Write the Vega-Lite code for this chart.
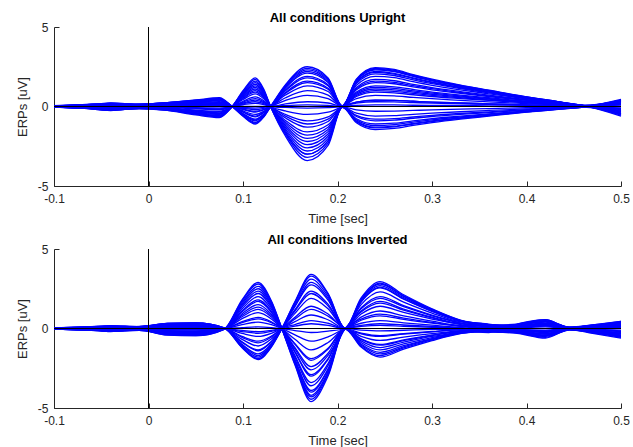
{
"$schema":"https://vega.github.io/schema/vega-lite/v6.json",
"padding":{"left":16,"top":12,"right":12,"bottom":4},
"config":{"view":{"stroke":null},"font":"Liberation Sans",
"axis":{"grid":false,"domainColor":"#262626","tickColor":"#262626","labelColor":"#262626","titleColor":"#262626","labelFont":"Liberation Sans","titleFont":"Liberation Sans","labelFontSize":12,"titleFontSize":13,"titleFontWeight":"normal","tickSize":-5,"labelFlush":false},
"axisX":{"labelPadding":12,"titlePadding":8},
"axisY":{"labelPadding":11,"titlePadding":8},
"title":{"font":"Liberation Sans","fontSize":13,"fontWeight":"bold","color":"#000000","offset":-4}},
"spacing":9,
"datasets":{
"zero":[{"t":0,"v":0}],
"up":[
{"c":1,"t":-0.1,"v":0.03},{"c":1,"t":-0.07,"v":-0.1},{"c":1,"t":-0.04,"v":-0.25},{"c":1,"t":-0.01,"v":-0.12},{"c":1,"t":0.02,"v":-0.2},{"c":1,"t":0.05,"v":-0.45},{"c":1,"t":0.075,"v":-0.6},{"c":1,"t":0.088,"v":-0.05},{"c":1,"t":0.1,"v":0.99},{"c":1,"t":0.113,"v":1.8},{"c":1,"t":0.122,"v":1.08},{"c":1,"t":0.129,"v":0.03},{"c":1,"t":0.145,"v":-1.87},{"c":1,"t":0.168,"v":-3.4},{"c":1,"t":0.19,"v":-2.45},{"c":1,"t":0.205,"v":-0.05},{"c":1,"t":0.22,"v":-0.84},{"c":1,"t":0.24,"v":-1.2},{"c":1,"t":0.26,"v":-1.14},{"c":1,"t":0.28,"v":-0.98},{"c":1,"t":0.3,"v":-0.84},{"c":1,"t":0.33,"v":-0.66},{"c":1,"t":0.36,"v":-0.5},{"c":1,"t":0.4,"v":-0.3},{"c":1,"t":0.43,"v":-0.17},{"c":1,"t":0.46,"v":-0.04},{"c":1,"t":0.5,"v":0.3},
{"c":2,"t":-0.1,"v":0.02},{"c":2,"t":-0.07,"v":-0.08},{"c":2,"t":-0.04,"v":-0.2},{"c":2,"t":-0.01,"v":-0.1},{"c":2,"t":0.02,"v":-0.25},{"c":2,"t":0.05,"v":-0.53},{"c":2,"t":0.075,"v":-0.7},{"c":2,"t":0.088,"v":-0.04},{"c":2,"t":0.1,"v":0.88},{"c":2,"t":0.113,"v":1.6},{"c":2,"t":0.122,"v":0.96},{"c":2,"t":0.129,"v":0.02},{"c":2,"t":0.145,"v":-1.65},{"c":2,"t":0.168,"v":-3.0},{"c":2,"t":0.19,"v":-2.16},{"c":2,"t":0.205,"v":-0.04},{"c":2,"t":0.22,"v":-1.02},{"c":2,"t":0.24,"v":-1.45},{"c":2,"t":0.26,"v":-1.38},{"c":2,"t":0.28,"v":-1.19},{"c":2,"t":0.3,"v":-1.02},{"c":2,"t":0.33,"v":-0.8},{"c":2,"t":0.36,"v":-0.61},{"c":2,"t":0.4,"v":-0.36},{"c":2,"t":0.43,"v":-0.2},{"c":2,"t":0.46,"v":-0.04},{"c":2,"t":0.5,"v":0.45},
{"c":3,"t":-0.1,"v":0.01},{"c":3,"t":-0.07,"v":-0.06},{"c":3,"t":-0.04,"v":-0.15},{"c":3,"t":-0.01,"v":-0.08},{"c":3,"t":0.02,"v":-0.15},{"c":3,"t":0.05,"v":-0.38},{"c":3,"t":0.075,"v":-0.5},{"c":3,"t":0.088,"v":-0.03},{"c":3,"t":0.1,"v":0.77},{"c":3,"t":0.113,"v":1.4},{"c":3,"t":0.122,"v":0.84},{"c":3,"t":0.129,"v":0.02},{"c":3,"t":0.145,"v":-1.43},{"c":3,"t":0.168,"v":-2.6},{"c":3,"t":0.19,"v":-1.87},{"c":3,"t":0.205,"v":-0.03},{"c":3,"t":0.22,"v":-0.63},{"c":3,"t":0.24,"v":-0.9},{"c":3,"t":0.26,"v":-0.86},{"c":3,"t":0.28,"v":-0.74},{"c":3,"t":0.3,"v":-0.63},{"c":3,"t":0.33,"v":-0.5},{"c":3,"t":0.36,"v":-0.38},{"c":3,"t":0.4,"v":-0.23},{"c":3,"t":0.43,"v":-0.13},{"c":3,"t":0.46,"v":-0.03},{"c":3,"t":0.5,"v":0.2},
{"c":4,"t":-0.1,"v":-0.02},{"c":4,"t":-0.07,"v":-0.05},{"c":4,"t":-0.04,"v":-0.1},{"c":4,"t":-0.01,"v":-0.05},{"c":4,"t":0.02,"v":-0.12},{"c":4,"t":0.05,"v":-0.3},{"c":4,"t":0.075,"v":-0.4},{"c":4,"t":0.088,"v":-0.02},{"c":4,"t":0.1,"v":0.66},{"c":4,"t":0.113,"v":1.2},{"c":4,"t":0.122,"v":0.72},{"c":4,"t":0.129,"v":0.01},{"c":4,"t":0.145,"v":-1.21},{"c":4,"t":0.168,"v":-2.2},{"c":4,"t":0.19,"v":-1.58},{"c":4,"t":0.205,"v":-0.02},{"c":4,"t":0.22,"v":-0.42},{"c":4,"t":0.24,"v":-0.6},{"c":4,"t":0.26,"v":-0.57},{"c":4,"t":0.28,"v":-0.49},{"c":4,"t":0.3,"v":-0.42},{"c":4,"t":0.33,"v":-0.33},{"c":4,"t":0.36,"v":-0.25},{"c":4,"t":0.4,"v":-0.15},{"c":4,"t":0.43,"v":-0.08},{"c":4,"t":0.46,"v":-0.02},{"c":4,"t":0.5,"v":-0.2},
{"c":5,"t":-0.1,"v":0},{"c":5,"t":-0.07,"v":-0.03},{"c":5,"t":-0.04,"v":-0.05},{"c":5,"t":-0.01,"v":0.02},{"c":5,"t":0.02,"v":-0.08},{"c":5,"t":0.05,"v":-0.23},{"c":5,"t":0.075,"v":-0.3},{"c":5,"t":0.088,"v":-0.02},{"c":5,"t":0.1,"v":0.55},{"c":5,"t":0.113,"v":1.0},{"c":5,"t":0.122,"v":0.6},{"c":5,"t":0.129,"v":0.01},{"c":5,"t":0.145,"v":-0.99},{"c":5,"t":0.168,"v":-1.8},{"c":5,"t":0.19,"v":-1.3},{"c":5,"t":0.205,"v":-0.02},{"c":5,"t":0.22,"v":-0.21},{"c":5,"t":0.24,"v":-0.3},{"c":5,"t":0.26,"v":-0.29},{"c":5,"t":0.28,"v":-0.25},{"c":5,"t":0.3,"v":-0.21},{"c":5,"t":0.33,"v":-0.17},{"c":5,"t":0.36,"v":-0.13},{"c":5,"t":0.4,"v":-0.08},{"c":5,"t":0.43,"v":-0.04},{"c":5,"t":0.46,"v":-0.01},{"c":5,"t":0.5,"v":0.1},
{"c":6,"t":-0.1,"v":-0.03},{"c":6,"t":-0.07,"v":0.02},{"c":6,"t":-0.04,"v":-0.02},{"c":6,"t":-0.01,"v":0.05},{"c":6,"t":0.02,"v":-0.05},{"c":6,"t":0.05,"v":-0.15},{"c":6,"t":0.075,"v":-0.2},{"c":6,"t":0.088,"v":-0.01},{"c":6,"t":0.1,"v":0.44},{"c":6,"t":0.113,"v":0.8},{"c":6,"t":0.122,"v":0.48},{"c":6,"t":0.129,"v":0},{"c":6,"t":0.145,"v":-0.72},{"c":6,"t":0.168,"v":-1.3},{"c":6,"t":0.19,"v":-0.94},{"c":6,"t":0.205,"v":-0.01},{"c":6,"t":0.22,"v":0.07},{"c":6,"t":0.24,"v":0.1},{"c":6,"t":0.26,"v":0.1},{"c":6,"t":0.28,"v":0.08},{"c":6,"t":0.3,"v":0.07},{"c":6,"t":0.33,"v":0.06},{"c":6,"t":0.36,"v":0.04},{"c":6,"t":0.4,"v":0.03},{"c":6,"t":0.43,"v":0.01},{"c":6,"t":0.46,"v":0},{"c":6,"t":0.5,"v":-0.3},
{"c":7,"t":-0.1,"v":0.02},{"c":7,"t":-0.07,"v":0.05},{"c":7,"t":-0.04,"v":0.05},{"c":7,"t":-0.01,"v":-0.03},{"c":7,"t":0.02,"v":0},{"c":7,"t":0.05,"v":-0.08},{"c":7,"t":0.075,"v":-0.1},{"c":7,"t":0.088,"v":0},{"c":7,"t":0.1,"v":0.33},{"c":7,"t":0.113,"v":0.6},{"c":7,"t":0.122,"v":0.36},{"c":7,"t":0.129,"v":0},{"c":7,"t":0.145,"v":-0.5},{"c":7,"t":0.168,"v":-0.9},{"c":7,"t":0.19,"v":-0.65},{"c":7,"t":0.205,"v":0},{"c":7,"t":0.22,"v":0.28},{"c":7,"t":0.24,"v":0.4},{"c":7,"t":0.26,"v":0.38},{"c":7,"t":0.28,"v":0.33},{"c":7,"t":0.3,"v":0.28},{"c":7,"t":0.33,"v":0.22},{"c":7,"t":0.36,"v":0.17},{"c":7,"t":0.4,"v":0.1},{"c":7,"t":0.43,"v":0.06},{"c":7,"t":0.46,"v":0.01},{"c":7,"t":0.5,"v":0.35},
{"c":8,"t":-0.1,"v":-0.01},{"c":8,"t":-0.07,"v":-0.02},{"c":8,"t":-0.04,"v":0.08},{"c":8,"t":-0.01,"v":0.06},{"c":8,"t":0.02,"v":0.03},{"c":8,"t":0.05,"v":0.02},{"c":8,"t":0.075,"v":0},{"c":8,"t":0.088,"v":0},{"c":8,"t":0.1,"v":0.22},{"c":8,"t":0.113,"v":0.4},{"c":8,"t":0.122,"v":0.24},{"c":8,"t":0.129,"v":0},{"c":8,"t":0.145,"v":-0.28},{"c":8,"t":0.168,"v":-0.5},{"c":8,"t":0.19,"v":-0.36},{"c":8,"t":0.205,"v":0},{"c":8,"t":0.22,"v":0.49},{"c":8,"t":0.24,"v":0.7},{"c":8,"t":0.26,"v":0.67},{"c":8,"t":0.28,"v":0.57},{"c":8,"t":0.3,"v":0.49},{"c":8,"t":0.33,"v":0.39},{"c":8,"t":0.36,"v":0.29},{"c":8,"t":0.4,"v":0.18},{"c":8,"t":0.43,"v":0.1},{"c":8,"t":0.46,"v":0.02},{"c":8,"t":0.5,"v":-0.1},
{"c":9,"t":-0.1,"v":0.04},{"c":9,"t":-0.07,"v":0.06},{"c":9,"t":-0.04,"v":0.1},{"c":9,"t":-0.01,"v":0.08},{"c":9,"t":0.02,"v":0.06},{"c":9,"t":0.05,"v":0.08},{"c":9,"t":0.075,"v":0.1},{"c":9,"t":0.088,"v":0.01},{"c":9,"t":0.1,"v":0.11},{"c":9,"t":0.113,"v":0.2},{"c":9,"t":0.122,"v":0.12},{"c":9,"t":0.129,"v":0},{"c":9,"t":0.145,"v":-0.06},{"c":9,"t":0.168,"v":-0.1},{"c":9,"t":0.19,"v":-0.07},{"c":9,"t":0.205,"v":0},{"c":9,"t":0.22,"v":0.63},{"c":9,"t":0.24,"v":0.9},{"c":9,"t":0.26,"v":0.86},{"c":9,"t":0.28,"v":0.74},{"c":9,"t":0.3,"v":0.63},{"c":9,"t":0.33,"v":0.5},{"c":9,"t":0.36,"v":0.38},{"c":9,"t":0.4,"v":0.23},{"c":9,"t":0.43,"v":0.13},{"c":9,"t":0.46,"v":0.03},{"c":9,"t":0.5,"v":0.15},
{"c":10,"t":-0.1,"v":-0.04},{"c":10,"t":-0.07,"v":0.08},{"c":10,"t":-0.04,"v":0.12},{"c":10,"t":-0.01,"v":0},{"c":10,"t":0.02,"v":0.08},{"c":10,"t":0.05,"v":0.11},{"c":10,"t":0.075,"v":0.15},{"c":10,"t":0.088,"v":0.01},{"c":10,"t":0.1,"v":0},{"c":10,"t":0.113,"v":0},{"c":10,"t":0.122,"v":0},{"c":10,"t":0.129,"v":0},{"c":10,"t":0.145,"v":0.17},{"c":10,"t":0.168,"v":0.3},{"c":10,"t":0.19,"v":0.22},{"c":10,"t":0.205,"v":0},{"c":10,"t":0.22,"v":0.77},{"c":10,"t":0.24,"v":1.1},{"c":10,"t":0.26,"v":1.05},{"c":10,"t":0.28,"v":0.9},{"c":10,"t":0.3,"v":0.77},{"c":10,"t":0.33,"v":0.61},{"c":10,"t":0.36,"v":0.46},{"c":10,"t":0.4,"v":0.28},{"c":10,"t":0.43,"v":0.15},{"c":10,"t":0.46,"v":0.03},{"c":10,"t":0.5,"v":-0.4},
{"c":11,"t":-0.1,"v":0.02},{"c":11,"t":-0.07,"v":0.1},{"c":11,"t":-0.04,"v":-0.08},{"c":11,"t":-0.01,"v":0.1},{"c":11,"t":0.02,"v":0.1},{"c":11,"t":0.05,"v":0.15},{"c":11,"t":0.075,"v":0.2},{"c":11,"t":0.088,"v":0.01},{"c":11,"t":0.1,"v":-0.11},{"c":11,"t":0.113,"v":-0.2},{"c":11,"t":0.122,"v":-0.12},{"c":11,"t":0.129,"v":0},{"c":11,"t":0.145,"v":0.39},{"c":11,"t":0.168,"v":0.7},{"c":11,"t":0.19,"v":0.5},{"c":11,"t":0.205,"v":0.01},{"c":11,"t":0.22,"v":0.91},{"c":11,"t":0.24,"v":1.3},{"c":11,"t":0.26,"v":1.24},{"c":11,"t":0.28,"v":1.07},{"c":11,"t":0.3,"v":0.91},{"c":11,"t":0.33,"v":0.72},{"c":11,"t":0.36,"v":0.55},{"c":11,"t":0.4,"v":0.33},{"c":11,"t":0.43,"v":0.18},{"c":11,"t":0.46,"v":0.04},{"c":11,"t":0.5,"v":0.25},
{"c":12,"t":-0.1,"v":-0.02},{"c":12,"t":-0.07,"v":-0.12},{"c":12,"t":-0.04,"v":0.15},{"c":12,"t":-0.01,"v":0.12},{"c":12,"t":0.02,"v":0.12},{"c":12,"t":0.05,"v":0.19},{"c":12,"t":0.075,"v":0.25},{"c":12,"t":0.088,"v":0.02},{"c":12,"t":0.1,"v":-0.19},{"c":12,"t":0.113,"v":-0.35},{"c":12,"t":0.122,"v":-0.21},{"c":12,"t":0.129,"v":-0.01},{"c":12,"t":0.145,"v":0.55},{"c":12,"t":0.168,"v":1.0},{"c":12,"t":0.19,"v":0.72},{"c":12,"t":0.205,"v":0.01},{"c":12,"t":0.22,"v":1.05},{"c":12,"t":0.24,"v":1.5},{"c":12,"t":0.26,"v":1.43},{"c":12,"t":0.28,"v":1.23},{"c":12,"t":0.3,"v":1.05},{"c":12,"t":0.33,"v":0.83},{"c":12,"t":0.36,"v":0.63},{"c":12,"t":0.4,"v":0.38},{"c":12,"t":0.43,"v":0.21},{"c":12,"t":0.46,"v":0.05},{"c":12,"t":0.5,"v":-0.5},
{"c":13,"t":-0.1,"v":0.05},{"c":13,"t":-0.07,"v":0.12},{"c":13,"t":-0.04,"v":0.18},{"c":13,"t":-0.01,"v":0.05},{"c":13,"t":0.02,"v":0.15},{"c":13,"t":0.05,"v":0.23},{"c":13,"t":0.075,"v":0.3},{"c":13,"t":0.088,"v":0.02},{"c":13,"t":0.1,"v":-0.28},{"c":13,"t":0.113,"v":-0.5},{"c":13,"t":0.122,"v":-0.3},{"c":13,"t":0.129,"v":-0.01},{"c":13,"t":0.145,"v":0.72},{"c":13,"t":0.168,"v":1.3},{"c":13,"t":0.19,"v":0.94},{"c":13,"t":0.205,"v":0.02},{"c":13,"t":0.22,"v":1.19},{"c":13,"t":0.24,"v":1.7},{"c":13,"t":0.26,"v":1.62},{"c":13,"t":0.28,"v":1.39},{"c":13,"t":0.3,"v":1.19},{"c":13,"t":0.33,"v":0.94},{"c":13,"t":0.36,"v":0.71},{"c":13,"t":0.4,"v":0.43},{"c":13,"t":0.43,"v":0.24},{"c":13,"t":0.46,"v":0.05},{"c":13,"t":0.5,"v":0.4},
{"c":14,"t":-0.1,"v":-0.05},{"c":14,"t":-0.07,"v":0.04},{"c":14,"t":-0.04,"v":-0.18},{"c":14,"t":-0.01,"v":0.14},{"c":14,"t":0.02,"v":0.18},{"c":14,"t":0.05,"v":0.26},{"c":14,"t":0.075,"v":0.35},{"c":14,"t":0.088,"v":0.02},{"c":14,"t":0.1,"v":-0.36},{"c":14,"t":0.113,"v":-0.65},{"c":14,"t":0.122,"v":-0.39},{"c":14,"t":0.129,"v":-0.01},{"c":14,"t":0.145,"v":0.88},{"c":14,"t":0.168,"v":1.6},{"c":14,"t":0.19,"v":1.15},{"c":14,"t":0.205,"v":0.02},{"c":14,"t":0.22,"v":1.33},{"c":14,"t":0.24,"v":1.9},{"c":14,"t":0.26,"v":1.81},{"c":14,"t":0.28,"v":1.56},{"c":14,"t":0.3,"v":1.33},{"c":14,"t":0.33,"v":1.05},{"c":14,"t":0.36,"v":0.8},{"c":14,"t":0.4,"v":0.48},{"c":14,"t":0.43,"v":0.27},{"c":14,"t":0.46,"v":0.06},{"c":14,"t":0.5,"v":-0.6},
{"c":15,"t":-0.1,"v":0.01},{"c":15,"t":-0.07,"v":0.1},{"c":15,"t":-0.04,"v":0.2},{"c":15,"t":-0.01,"v":0.15},{"c":15,"t":0.02,"v":0.2},{"c":15,"t":0.05,"v":0.3},{"c":15,"t":0.075,"v":0.4},{"c":15,"t":0.088,"v":0.03},{"c":15,"t":0.1,"v":-0.44},{"c":15,"t":0.113,"v":-0.8},{"c":15,"t":0.122,"v":-0.48},{"c":15,"t":0.129,"v":-0.02},{"c":15,"t":0.145,"v":1.05},{"c":15,"t":0.168,"v":1.9},{"c":15,"t":0.19,"v":1.37},{"c":15,"t":0.205,"v":0.02},{"c":15,"t":0.22,"v":1.44},{"c":15,"t":0.24,"v":2.05},{"c":15,"t":0.26,"v":1.95},{"c":15,"t":0.28,"v":1.68},{"c":15,"t":0.3,"v":1.44},{"c":15,"t":0.33,"v":1.13},{"c":15,"t":0.36,"v":0.86},{"c":15,"t":0.4,"v":0.51},{"c":15,"t":0.43,"v":0.29},{"c":15,"t":0.46,"v":0.06},{"c":15,"t":0.5,"v":0},
{"c":16,"t":-0.1,"v":-0.03},{"c":16,"t":-0.07,"v":-0.07},{"c":16,"t":-0.04,"v":0.12},{"c":16,"t":-0.01,"v":-0.06},{"c":16,"t":0.02,"v":0.22},{"c":16,"t":0.05,"v":0.34},{"c":16,"t":0.075,"v":0.45},{"c":16,"t":0.088,"v":0.03},{"c":16,"t":0.1,"v":-0.5},{"c":16,"t":0.113,"v":-0.9},{"c":16,"t":0.122,"v":-0.54},{"c":16,"t":0.129,"v":-0.02},{"c":16,"t":0.145,"v":1.16},{"c":16,"t":0.168,"v":2.1},{"c":16,"t":0.19,"v":1.51},{"c":16,"t":0.205,"v":0.03},{"c":16,"t":0.22,"v":1.54},{"c":16,"t":0.24,"v":2.2},{"c":16,"t":0.26,"v":2.09},{"c":16,"t":0.28,"v":1.8},{"c":16,"t":0.3,"v":1.54},{"c":16,"t":0.33,"v":1.21},{"c":16,"t":0.36,"v":0.92},{"c":16,"t":0.4,"v":0.55},{"c":16,"t":0.43,"v":0.31},{"c":16,"t":0.46,"v":0.07},{"c":16,"t":0.5,"v":-0.35},
{"c":17,"t":-0.1,"v":0.03},{"c":17,"t":-0.07,"v":0.09},{"c":17,"t":-0.04,"v":-0.22},{"c":17,"t":-0.01,"v":0.1},{"c":17,"t":0.02,"v":0.25},{"c":17,"t":0.05,"v":0.38},{"c":17,"t":0.075,"v":0.5},{"c":17,"t":0.088,"v":0.03},{"c":17,"t":0.1,"v":-0.55},{"c":17,"t":0.113,"v":-1.0},{"c":17,"t":0.122,"v":-0.6},{"c":17,"t":0.129,"v":-0.02},{"c":17,"t":0.145,"v":1.27},{"c":17,"t":0.168,"v":2.3},{"c":17,"t":0.19,"v":1.66},{"c":17,"t":0.205,"v":0.03},{"c":17,"t":0.22,"v":1.65},{"c":17,"t":0.24,"v":2.35},{"c":17,"t":0.26,"v":2.23},{"c":17,"t":0.28,"v":1.93},{"c":17,"t":0.3,"v":1.65},{"c":17,"t":0.33,"v":1.29},{"c":17,"t":0.36,"v":0.99},{"c":17,"t":0.4,"v":0.59},{"c":17,"t":0.43,"v":0.33},{"c":17,"t":0.46,"v":0.07},{"c":17,"t":0.5,"v":0.3},
{"c":18,"t":-0.1,"v":0},{"c":18,"t":-0.07,"v":-0.11},{"c":18,"t":-0.04,"v":0.22},{"c":18,"t":-0.01,"v":0.13},{"c":18,"t":0.02,"v":0.25},{"c":18,"t":0.05,"v":0.41},{"c":18,"t":0.075,"v":0.55},{"c":18,"t":0.088,"v":0.03},{"c":18,"t":0.1,"v":-0.61},{"c":18,"t":0.113,"v":-1.1},{"c":18,"t":0.122,"v":-0.66},{"c":18,"t":0.129,"v":-0.02},{"c":18,"t":0.145,"v":1.38},{"c":18,"t":0.168,"v":2.5},{"c":18,"t":0.19,"v":1.8},{"c":18,"t":0.205,"v":0.03},{"c":18,"t":0.22,"v":1.72},{"c":18,"t":0.24,"v":2.45},{"c":18,"t":0.26,"v":2.33},{"c":18,"t":0.28,"v":2.01},{"c":18,"t":0.3,"v":1.72},{"c":18,"t":0.33,"v":1.35},{"c":18,"t":0.36,"v":1.03},{"c":18,"t":0.4,"v":0.61},{"c":18,"t":0.43,"v":0.34},{"c":18,"t":0.46,"v":0.07},{"c":18,"t":0.5,"v":-0.25},
{"c":19,"t":-0.1,"v":0.02},{"c":19,"t":-0.07,"v":-0.09},{"c":19,"t":-0.04,"v":-0.22},{"c":19,"t":-0.01,"v":-0.14},{"c":19,"t":0.02,"v":-0.22},{"c":19,"t":0.05,"v":-0.49},{"c":19,"t":0.075,"v":-0.65},{"c":19,"t":0.088,"v":-0.04},{"c":19,"t":0.1,"v":0.94},{"c":19,"t":0.113,"v":1.7},{"c":19,"t":0.122,"v":1.02},{"c":19,"t":0.129,"v":0.02},{"c":19,"t":0.145,"v":-1.76},{"c":19,"t":0.168,"v":-3.2},{"c":19,"t":0.19,"v":-2.3},{"c":19,"t":0.205,"v":-0.04},{"c":19,"t":0.22,"v":-0.95},{"c":19,"t":0.24,"v":-1.35},{"c":19,"t":0.26,"v":-1.28},{"c":19,"t":0.28,"v":-1.11},{"c":19,"t":0.3,"v":-0.95},{"c":19,"t":0.33,"v":-0.74},{"c":19,"t":0.36,"v":-0.57},{"c":19,"t":0.4,"v":-0.34},{"c":19,"t":0.43,"v":-0.19},{"c":19,"t":0.46,"v":-0.04},{"c":19,"t":0.5,"v":-0.45},
{"c":20,"t":-0.1,"v":-0.01},{"c":20,"t":-0.07,"v":-0.07},{"c":20,"t":-0.04,"v":-0.18},{"c":20,"t":-0.01,"v":-0.06},{"c":20,"t":0.02,"v":-0.18},{"c":20,"t":0.05,"v":-0.41},{"c":20,"t":0.075,"v":-0.55},{"c":20,"t":0.088,"v":-0.03},{"c":20,"t":0.1,"v":0.83},{"c":20,"t":0.113,"v":1.5},{"c":20,"t":0.122,"v":0.9},{"c":20,"t":0.129,"v":0.01},{"c":20,"t":0.145,"v":-1.54},{"c":20,"t":0.168,"v":-2.8},{"c":20,"t":0.19,"v":-2.02},{"c":20,"t":0.205,"v":-0.03},{"c":20,"t":0.22,"v":0.21},{"c":20,"t":0.24,"v":0.3},{"c":20,"t":0.26,"v":0.29},{"c":20,"t":0.28,"v":0.25},{"c":20,"t":0.3,"v":0.21},{"c":20,"t":0.33,"v":0.17},{"c":20,"t":0.36,"v":0.13},{"c":20,"t":0.4,"v":0.08},{"c":20,"t":0.43,"v":0.04},{"c":20,"t":0.46,"v":0.01},{"c":20,"t":0.5,"v":0.2},
{"c":21,"t":-0.1,"v":0.03},{"c":21,"t":-0.07,"v":-0.04},{"c":21,"t":-0.04,"v":-0.2},{"c":21,"t":-0.01,"v":-0.11},{"c":21,"t":0.02,"v":-0.1},{"c":21,"t":0.05,"v":-0.34},{"c":21,"t":0.075,"v":-0.45},{"c":21,"t":0.088,"v":-0.03},{"c":21,"t":0.1,"v":0.72},{"c":21,"t":0.113,"v":1.3},{"c":21,"t":0.122,"v":0.78},{"c":21,"t":0.129,"v":0.01},{"c":21,"t":0.145,"v":-1.32},{"c":21,"t":0.168,"v":-2.4},{"c":21,"t":0.19,"v":-1.73},{"c":21,"t":0.205,"v":-0.02},{"c":21,"t":0.22,"v":-0.77},{"c":21,"t":0.24,"v":-1.1},{"c":21,"t":0.26,"v":-1.05},{"c":21,"t":0.28,"v":-0.9},{"c":21,"t":0.3,"v":-0.77},{"c":21,"t":0.33,"v":-0.61},{"c":21,"t":0.36,"v":-0.46},{"c":21,"t":0.4,"v":-0.28},{"c":21,"t":0.43,"v":-0.15},{"c":21,"t":0.46,"v":-0.03},{"c":21,"t":0.5,"v":-0.1},
{"c":22,"t":-0.1,"v":-0.02},{"c":22,"t":-0.07,"v":0.03},{"c":22,"t":-0.04,"v":-0.12},{"c":22,"t":-0.01,"v":-0.09},{"c":22,"t":0.02,"v":-0.14},{"c":22,"t":0.05,"v":-0.26},{"c":22,"t":0.075,"v":-0.35},{"c":22,"t":0.088,"v":-0.02},{"c":22,"t":0.1,"v":0.5},{"c":22,"t":0.113,"v":0.9},{"c":22,"t":0.122,"v":0.54},{"c":22,"t":0.129,"v":0.01},{"c":22,"t":0.145,"v":-1.65},{"c":22,"t":0.168,"v":-3.0},{"c":22,"t":0.19,"v":-2.16},{"c":22,"t":0.205,"v":-0.03},{"c":22,"t":0.22,"v":-0.56},{"c":22,"t":0.24,"v":-0.8},{"c":22,"t":0.26,"v":-0.76},{"c":22,"t":0.28,"v":-0.66},{"c":22,"t":0.3,"v":-0.56},{"c":22,"t":0.33,"v":-0.44},{"c":22,"t":0.36,"v":-0.34},{"c":22,"t":0.4,"v":-0.2},{"c":22,"t":0.43,"v":-0.11},{"c":22,"t":0.46,"v":-0.02},{"c":22,"t":0.5,"v":0.35},
{"c":23,"t":-0.1,"v":0.01},{"c":23,"t":-0.07,"v":0.04},{"c":23,"t":-0.04,"v":0.06},{"c":23,"t":-0.01,"v":-0.04},{"c":23,"t":0.02,"v":-0.03},{"c":23,"t":0.05,"v":-0.11},{"c":23,"t":0.075,"v":-0.15},{"c":23,"t":0.088,"v":-0.01},{"c":23,"t":0.1,"v":0.28},{"c":23,"t":0.113,"v":0.5},{"c":23,"t":0.122,"v":0.3},{"c":23,"t":0.129,"v":0},{"c":23,"t":0.145,"v":-0.88},{"c":23,"t":0.168,"v":-1.6},{"c":23,"t":0.19,"v":-1.15},{"c":23,"t":0.205,"v":-0.01},{"c":23,"t":0.22,"v":0.84},{"c":23,"t":0.24,"v":1.2},{"c":23,"t":0.26,"v":1.14},{"c":23,"t":0.28,"v":0.98},{"c":23,"t":0.3,"v":0.84},{"c":23,"t":0.33,"v":0.66},{"c":23,"t":0.36,"v":0.5},{"c":23,"t":0.4,"v":0.3},{"c":23,"t":0.43,"v":0.17},{"c":23,"t":0.46,"v":0.04},{"c":23,"t":0.5,"v":-0.3},
{"c":24,"t":-0.1,"v":0},{"c":24,"t":-0.07,"v":-0.05},{"c":24,"t":-0.04,"v":0.04},{"c":24,"t":-0.01,"v":0.07},{"c":24,"t":0.02,"v":0.05},{"c":24,"t":0.05,"v":0.08},{"c":24,"t":0.075,"v":0.1},{"c":24,"t":0.088,"v":0.01},{"c":24,"t":0.1,"v":-0.06},{"c":24,"t":0.113,"v":-0.1},{"c":24,"t":0.122,"v":-0.06},{"c":24,"t":0.129,"v":0},{"c":24,"t":0.145,"v":0.06},{"c":24,"t":0.168,"v":0.1},{"c":24,"t":0.19,"v":0.07},{"c":24,"t":0.205,"v":0},{"c":24,"t":0.22,"v":0.28},{"c":24,"t":0.24,"v":0.4},{"c":24,"t":0.26,"v":0.38},{"c":24,"t":0.28,"v":0.33},{"c":24,"t":0.3,"v":0.28},{"c":24,"t":0.33,"v":0.22},{"c":24,"t":0.36,"v":0.17},{"c":24,"t":0.4,"v":0.1},{"c":24,"t":0.43,"v":0.06},{"c":24,"t":0.46,"v":0.01},{"c":24,"t":0.5,"v":0.2},
{"c":25,"t":-0.1,"v":0.03},{"c":25,"t":-0.07,"v":0.11},{"c":25,"t":-0.04,"v":0.16},{"c":25,"t":-0.01,"v":0.09},{"c":25,"t":0.02,"v":0.16},{"c":25,"t":0.05,"v":0.19},{"c":25,"t":0.075,"v":0.25},{"c":25,"t":0.088,"v":0.02},{"c":25,"t":0.1,"v":-0.17},{"c":25,"t":0.113,"v":-0.3},{"c":25,"t":0.122,"v":-0.18},{"c":25,"t":0.129,"v":-0.01},{"c":25,"t":0.145,"v":0.83},{"c":25,"t":0.168,"v":1.5},{"c":25,"t":0.19,"v":1.08},{"c":25,"t":0.205,"v":0.02},{"c":25,"t":0.22,"v":1.61},{"c":25,"t":0.24,"v":2.3},{"c":25,"t":0.26,"v":2.19},{"c":25,"t":0.28,"v":1.89},{"c":25,"t":0.3,"v":1.61},{"c":25,"t":0.33,"v":1.27},{"c":25,"t":0.36,"v":0.97},{"c":25,"t":0.4,"v":0.58},{"c":25,"t":0.43,"v":0.32},{"c":25,"t":0.46,"v":0.07},{"c":25,"t":0.5,"v":-0.45},
{"c":26,"t":-0.1,"v":-0.04},{"c":26,"t":-0.07,"v":0.02},{"c":26,"t":-0.04,"v":-0.2},{"c":26,"t":-0.01,"v":0.12},{"c":26,"t":0.02,"v":0.23},{"c":26,"t":0.05,"v":0.34},{"c":26,"t":0.075,"v":0.45},{"c":26,"t":0.088,"v":0.03},{"c":26,"t":0.1,"v":-0.33},{"c":26,"t":0.113,"v":-0.6},{"c":26,"t":0.122,"v":-0.36},{"c":26,"t":0.129,"v":-0.01},{"c":26,"t":0.145,"v":1.21},{"c":26,"t":0.168,"v":2.2},{"c":26,"t":0.19,"v":1.58},{"c":26,"t":0.205,"v":0.02},{"c":26,"t":0.22,"v":0.7},{"c":26,"t":0.24,"v":1.0},{"c":26,"t":0.26,"v":0.95},{"c":26,"t":0.28,"v":0.82},{"c":26,"t":0.3,"v":0.7},{"c":26,"t":0.33,"v":0.55},{"c":26,"t":0.36,"v":0.42},{"c":26,"t":0.4,"v":0.25},{"c":26,"t":0.43,"v":0.14},{"c":26,"t":0.46,"v":0.03},{"c":26,"t":0.5,"v":0.1},
{"c":27,"t":-0.1,"v":0.02},{"c":27,"t":-0.07,"v":0.08},{"c":27,"t":-0.04,"v":0.21},{"c":27,"t":-0.01,"v":0.14},{"c":27,"t":0.02,"v":0.24},{"c":27,"t":0.05,"v":0.38},{"c":27,"t":0.075,"v":0.5},{"c":27,"t":0.088,"v":0.03},{"c":27,"t":0.1,"v":-0.47},{"c":27,"t":0.113,"v":-0.85},{"c":27,"t":0.122,"v":-0.51},{"c":27,"t":0.129,"v":-0.02},{"c":27,"t":0.145,"v":1.32},{"c":27,"t":0.168,"v":2.4},{"c":27,"t":0.19,"v":1.73},{"c":27,"t":0.205,"v":0.03},{"c":27,"t":0.22,"v":1.68},{"c":27,"t":0.24,"v":2.4},{"c":27,"t":0.26,"v":2.28},{"c":27,"t":0.28,"v":1.97},{"c":27,"t":0.3,"v":1.68},{"c":27,"t":0.33,"v":1.32},{"c":27,"t":0.36,"v":1.01},{"c":27,"t":0.4,"v":0.6},{"c":27,"t":0.43,"v":0.34},{"c":27,"t":0.46,"v":0.07},{"c":27,"t":0.5,"v":0.35},
{"c":28,"t":-0.1,"v":-0.01},{"c":28,"t":-0.07,"v":-0.1},{"c":28,"t":-0.04,"v":0.14},{"c":28,"t":-0.01,"v":0.11},{"c":28,"t":0.02,"v":0.19},{"c":28,"t":0.05,"v":0.3},{"c":28,"t":0.075,"v":0.4},{"c":28,"t":0.088,"v":0.02},{"c":28,"t":0.1,"v":-0.58},{"c":28,"t":0.113,"v":-1.05},{"c":28,"t":0.122,"v":-0.63},{"c":28,"t":0.129,"v":-0.02},{"c":28,"t":0.145,"v":0.99},{"c":28,"t":0.168,"v":1.8},{"c":28,"t":0.19,"v":1.3},{"c":28,"t":0.205,"v":0.02},{"c":28,"t":0.22,"v":1.51},{"c":28,"t":0.24,"v":2.15},{"c":28,"t":0.26,"v":2.04},{"c":28,"t":0.28,"v":1.76},{"c":28,"t":0.3,"v":1.51},{"c":28,"t":0.33,"v":1.18},{"c":28,"t":0.36,"v":0.9},{"c":28,"t":0.4,"v":0.54},{"c":28,"t":0.43,"v":0.3},{"c":28,"t":0.46,"v":0.06},{"c":28,"t":0.5,"v":-0.15},
{"c":29,"t":-0.1,"v":0.02},{"c":29,"t":-0.07,"v":-0.1},{"c":29,"t":-0.04,"v":-0.24},{"c":29,"t":-0.01,"v":-0.13},{"c":29,"t":0.02,"v":-0.24},{"c":29,"t":0.05,"v":-0.45},{"c":29,"t":0.075,"v":-0.6},{"c":29,"t":0.088,"v":-0.04},{"c":29,"t":0.1,"v":0.61},{"c":29,"t":0.113,"v":1.1},{"c":29,"t":0.122,"v":0.66},{"c":29,"t":0.129,"v":0.01},{"c":29,"t":0.145,"v":-1.1},{"c":29,"t":0.168,"v":-2.0},{"c":29,"t":0.19,"v":-1.44},{"c":29,"t":0.205,"v":-0.02},{"c":29,"t":0.22,"v":-0.91},{"c":29,"t":0.24,"v":-1.3},{"c":29,"t":0.26,"v":-1.24},{"c":29,"t":0.28,"v":-1.07},{"c":29,"t":0.3,"v":-0.91},{"c":29,"t":0.33,"v":-0.72},{"c":29,"t":0.36,"v":-0.55},{"c":29,"t":0.4,"v":-0.33},{"c":29,"t":0.43,"v":-0.18},{"c":29,"t":0.46,"v":-0.04},{"c":29,"t":0.5,"v":0.4},
{"c":30,"t":-0.1,"v":-0.03},{"c":30,"t":-0.07,"v":0.05},{"c":30,"t":-0.04,"v":0.09},{"c":30,"t":-0.01,"v":-0.02},{"c":30,"t":0.02,"v":0.04},{"c":30,"t":0.05,"v":0.04},{"c":30,"t":0.075,"v":0.05},{"c":30,"t":0.088,"v":0},{"c":30,"t":0.1,"v":0.17},{"c":30,"t":0.113,"v":0.3},{"c":30,"t":0.122,"v":0.18},{"c":30,"t":0.129,"v":0},{"c":30,"t":0.145,"v":-0.61},{"c":30,"t":0.168,"v":-1.1},{"c":30,"t":0.19,"v":-0.79},{"c":30,"t":0.205,"v":-0.01},{"c":30,"t":0.22,"v":1.12},{"c":30,"t":0.24,"v":1.6},{"c":30,"t":0.26,"v":1.52},{"c":30,"t":0.28,"v":1.31},{"c":30,"t":0.3,"v":1.12},{"c":30,"t":0.33,"v":0.88},{"c":30,"t":0.36,"v":0.67},{"c":30,"t":0.4,"v":0.4},{"c":30,"t":0.43,"v":0.22},{"c":30,"t":0.46,"v":0.05},{"c":30,"t":0.5,"v":-0.55}
],
"inv":[
{"c":1,"t":-0.1,"v":0.03},{"c":1,"t":-0.07,"v":-0.08},{"c":1,"t":-0.04,"v":-0.18},{"c":1,"t":-0.01,"v":-0.1},{"c":1,"t":0.02,"v":-0.4},{"c":1,"t":0.05,"v":-0.45},{"c":1,"t":0.08,"v":-0.05},{"c":1,"t":0.099,"v":1.8},{"c":1,"t":0.116,"v":2.9},{"c":1,"t":0.13,"v":1.74},{"c":1,"t":0.141,"v":0.02},{"c":1,"t":0.155,"v":-2.3},{"c":1,"t":0.172,"v":-4.6},{"c":1,"t":0.19,"v":-2.99},{"c":1,"t":0.208,"v":-0.03},{"c":1,"t":0.225,"v":-1.17},{"c":1,"t":0.245,"v":-1.8},{"c":1,"t":0.27,"v":-1.3},{"c":1,"t":0.3,"v":-0.76},{"c":1,"t":0.33,"v":-0.32},{"c":1,"t":0.36,"v":-0.15},{"c":1,"t":0.39,"v":0.25},{"c":1,"t":0.42,"v":0.5},{"c":1,"t":0.445,"v":0.08},{"c":1,"t":0.47,"v":0.2},{"c":1,"t":0.5,"v":0.4},
{"c":2,"t":-0.1,"v":0.02},{"c":2,"t":-0.07,"v":-0.06},{"c":2,"t":-0.04,"v":-0.15},{"c":2,"t":-0.01,"v":-0.08},{"c":2,"t":0.02,"v":-0.36},{"c":2,"t":0.05,"v":-0.4},{"c":2,"t":0.08,"v":-0.04},{"c":2,"t":0.099,"v":1.64},{"c":2,"t":0.116,"v":2.65},{"c":2,"t":0.13,"v":1.59},{"c":2,"t":0.141,"v":0.02},{"c":2,"t":0.155,"v":-2.15},{"c":2,"t":0.172,"v":-4.3},{"c":2,"t":0.19,"v":-2.8},{"c":2,"t":0.208,"v":-0.03},{"c":2,"t":0.225,"v":-1.04},{"c":2,"t":0.245,"v":-1.6},{"c":2,"t":0.27,"v":-1.15},{"c":2,"t":0.3,"v":-0.67},{"c":2,"t":0.33,"v":-0.29},{"c":2,"t":0.36,"v":-0.2},{"c":2,"t":0.39,"v":-0.28},{"c":2,"t":0.42,"v":-0.55},{"c":2,"t":0.445,"v":-0.08},{"c":2,"t":0.47,"v":-0.25},{"c":2,"t":0.5,"v":-0.5},
{"c":3,"t":-0.1,"v":0.01},{"c":3,"t":-0.07,"v":-0.05},{"c":3,"t":-0.04,"v":-0.12},{"c":3,"t":-0.01,"v":-0.06},{"c":3,"t":0.02,"v":-0.32},{"c":3,"t":0.05,"v":-0.35},{"c":3,"t":0.08,"v":-0.04},{"c":3,"t":0.099,"v":1.46},{"c":3,"t":0.116,"v":2.35},{"c":3,"t":0.13,"v":1.41},{"c":3,"t":0.141,"v":0.01},{"c":3,"t":0.155,"v":-1.95},{"c":3,"t":0.172,"v":-3.9},{"c":3,"t":0.19,"v":-2.54},{"c":3,"t":0.208,"v":-0.02},{"c":3,"t":0.225,"v":-0.88},{"c":3,"t":0.245,"v":-1.35},{"c":3,"t":0.27,"v":-0.97},{"c":3,"t":0.3,"v":-0.57},{"c":3,"t":0.33,"v":-0.24},{"c":3,"t":0.36,"v":-0.05},{"c":3,"t":0.39,"v":0.2},{"c":3,"t":0.42,"v":0.4},{"c":3,"t":0.445,"v":0.06},{"c":3,"t":0.47,"v":0.15},{"c":3,"t":0.5,"v":0.3},
{"c":4,"t":-0.1,"v":-0.02},{"c":4,"t":-0.07,"v":-0.04},{"c":4,"t":-0.04,"v":-0.08},{"c":4,"t":-0.01,"v":-0.04},{"c":4,"t":0.02,"v":-0.27},{"c":4,"t":0.05,"v":-0.3},{"c":4,"t":0.08,"v":-0.03},{"c":4,"t":0.099,"v":1.24},{"c":4,"t":0.116,"v":2.0},{"c":4,"t":0.13,"v":1.2},{"c":4,"t":0.141,"v":0.01},{"c":4,"t":0.155,"v":-1.7},{"c":4,"t":0.172,"v":-3.4},{"c":4,"t":0.19,"v":-2.21},{"c":4,"t":0.208,"v":-0.02},{"c":4,"t":0.225,"v":-0.68},{"c":4,"t":0.245,"v":-1.05},{"c":4,"t":0.27,"v":-0.76},{"c":4,"t":0.3,"v":-0.44},{"c":4,"t":0.33,"v":-0.19},{"c":4,"t":0.36,"v":-0.12},{"c":4,"t":0.39,"v":-0.23},{"c":4,"t":0.42,"v":-0.45},{"c":4,"t":0.445,"v":-0.07},{"c":4,"t":0.47,"v":-0.3},{"c":4,"t":0.5,"v":-0.6},
{"c":5,"t":-0.1,"v":0},{"c":5,"t":-0.07,"v":-0.02},{"c":5,"t":-0.04,"v":-0.04},{"c":5,"t":-0.01,"v":0.02},{"c":5,"t":0.02,"v":-0.22},{"c":5,"t":0.05,"v":-0.25},{"c":5,"t":0.08,"v":-0.03},{"c":5,"t":0.099,"v":1.05},{"c":5,"t":0.116,"v":1.7},{"c":5,"t":0.13,"v":1.02},{"c":5,"t":0.141,"v":0.01},{"c":5,"t":0.155,"v":-1.45},{"c":5,"t":0.172,"v":-2.9},{"c":5,"t":0.19,"v":-1.89},{"c":5,"t":0.208,"v":-0.02},{"c":5,"t":0.225,"v":-0.49},{"c":5,"t":0.245,"v":-0.75},{"c":5,"t":0.27,"v":-0.54},{"c":5,"t":0.3,"v":-0.32},{"c":5,"t":0.33,"v":-0.14},{"c":5,"t":0.36,"v":0.05},{"c":5,"t":0.39,"v":0.15},{"c":5,"t":0.42,"v":0.3},{"c":5,"t":0.445,"v":0.05},{"c":5,"t":0.47,"v":0.1},{"c":5,"t":0.5,"v":0.2},
{"c":6,"t":-0.1,"v":-0.03},{"c":6,"t":-0.07,"v":0.02},{"c":6,"t":-0.04,"v":-0.02},{"c":6,"t":-0.01,"v":0.04},{"c":6,"t":0.02,"v":-0.18},{"c":6,"t":0.05,"v":-0.2},{"c":6,"t":0.08,"v":-0.02},{"c":6,"t":0.099,"v":0.84},{"c":6,"t":0.116,"v":1.35},{"c":6,"t":0.13,"v":0.81},{"c":6,"t":0.141,"v":0},{"c":6,"t":0.155,"v":-1.2},{"c":6,"t":0.172,"v":-2.4},{"c":6,"t":0.19,"v":-1.56},{"c":6,"t":0.208,"v":-0.01},{"c":6,"t":0.225,"v":-0.29},{"c":6,"t":0.245,"v":-0.45},{"c":6,"t":0.27,"v":-0.32},{"c":6,"t":0.3,"v":-0.19},{"c":6,"t":0.33,"v":-0.08},{"c":6,"t":0.36,"v":-0.1},{"c":6,"t":0.39,"v":-0.18},{"c":6,"t":0.42,"v":-0.35},{"c":6,"t":0.445,"v":-0.05},{"c":6,"t":0.47,"v":-0.2},{"c":6,"t":0.5,"v":-0.4},
{"c":7,"t":-0.1,"v":0.02},{"c":7,"t":-0.07,"v":0.04},{"c":7,"t":-0.04,"v":0.04},{"c":7,"t":-0.01,"v":-0.03},{"c":7,"t":0.02,"v":-0.14},{"c":7,"t":0.05,"v":-0.15},{"c":7,"t":0.08,"v":-0.02},{"c":7,"t":0.099,"v":0.62},{"c":7,"t":0.116,"v":1.0},{"c":7,"t":0.13,"v":0.6},{"c":7,"t":0.141,"v":0},{"c":7,"t":0.155,"v":-0.95},{"c":7,"t":0.172,"v":-1.9},{"c":7,"t":0.19,"v":-1.24},{"c":7,"t":0.208,"v":-0.01},{"c":7,"t":0.225,"v":-0.1},{"c":7,"t":0.245,"v":-0.15},{"c":7,"t":0.27,"v":-0.11},{"c":7,"t":0.3,"v":-0.06},{"c":7,"t":0.33,"v":-0.03},{"c":7,"t":0.36,"v":0.12},{"c":7,"t":0.39,"v":0.1},{"c":7,"t":0.42,"v":0.2},{"c":7,"t":0.445,"v":0.03},{"c":7,"t":0.47,"v":0.22},{"c":7,"t":0.5,"v":0.45},
{"c":8,"t":-0.1,"v":-0.01},{"c":8,"t":-0.07,"v":-0.02},{"c":8,"t":-0.04,"v":0.06},{"c":8,"t":-0.01,"v":0.05},{"c":8,"t":0.02,"v":-0.09},{"c":8,"t":0.05,"v":-0.1},{"c":8,"t":0.08,"v":-0.01},{"c":8,"t":0.099,"v":0.43},{"c":8,"t":0.116,"v":0.7},{"c":8,"t":0.13,"v":0.42},{"c":8,"t":0.141,"v":0},{"c":8,"t":0.155,"v":-0.68},{"c":8,"t":0.172,"v":-1.35},{"c":8,"t":0.19,"v":-0.88},{"c":8,"t":0.208,"v":-0.01},{"c":8,"t":0.225,"v":0.13},{"c":8,"t":0.245,"v":0.2},{"c":8,"t":0.27,"v":0.14},{"c":8,"t":0.3,"v":0.08},{"c":8,"t":0.33,"v":0.04},{"c":8,"t":0.36,"v":-0.15},{"c":8,"t":0.39,"v":-0.13},{"c":8,"t":0.42,"v":-0.25},{"c":8,"t":0.445,"v":-0.04},{"c":8,"t":0.47,"v":-0.15},{"c":8,"t":0.5,"v":-0.3},
{"c":9,"t":-0.1,"v":0.04},{"c":9,"t":-0.07,"v":0.05},{"c":9,"t":-0.04,"v":0.08},{"c":9,"t":-0.01,"v":0.06},{"c":9,"t":0.02,"v":-0.05},{"c":9,"t":0.05,"v":-0.05},{"c":9,"t":0.08,"v":0},{"c":9,"t":0.099,"v":0.25},{"c":9,"t":0.116,"v":0.4},{"c":9,"t":0.13,"v":0.24},{"c":9,"t":0.141,"v":0},{"c":9,"t":0.155,"v":-0.4},{"c":9,"t":0.172,"v":-0.8},{"c":9,"t":0.19,"v":-0.52},{"c":9,"t":0.208,"v":0},{"c":9,"t":0.225,"v":0.33},{"c":9,"t":0.245,"v":0.5},{"c":9,"t":0.27,"v":0.36},{"c":9,"t":0.3,"v":0.21},{"c":9,"t":0.33,"v":0.09},{"c":9,"t":0.36,"v":0.18},{"c":9,"t":0.39,"v":0.05},{"c":9,"t":0.42,"v":0.1},{"c":9,"t":0.445,"v":0.02},{"c":9,"t":0.47,"v":0.05},{"c":9,"t":0.5,"v":0.1},
{"c":10,"t":-0.1,"v":-0.04},{"c":10,"t":-0.07,"v":0.06},{"c":10,"t":-0.04,"v":0.1},{"c":10,"t":-0.01,"v":0},{"c":10,"t":0.02,"v":0},{"c":10,"t":0.05,"v":0},{"c":10,"t":0.08,"v":0},{"c":10,"t":0.099,"v":0.06},{"c":10,"t":0.116,"v":0.1},{"c":10,"t":0.13,"v":0.06},{"c":10,"t":0.141,"v":0},{"c":10,"t":0.155,"v":-0.13},{"c":10,"t":0.172,"v":-0.25},{"c":10,"t":0.19,"v":-0.16},{"c":10,"t":0.208,"v":0},{"c":10,"t":0.225,"v":0.52},{"c":10,"t":0.245,"v":0.8},{"c":10,"t":0.27,"v":0.58},{"c":10,"t":0.3,"v":0.34},{"c":10,"t":0.33,"v":0.14},{"c":10,"t":0.36,"v":-0.05},{"c":10,"t":0.39,"v":-0.08},{"c":10,"t":0.42,"v":-0.15},{"c":10,"t":0.445,"v":-0.02},{"c":10,"t":0.47,"v":-0.1},{"c":10,"t":0.5,"v":-0.2},
{"c":11,"t":-0.1,"v":0.02},{"c":11,"t":-0.07,"v":0.08},{"c":11,"t":-0.04,"v":-0.06},{"c":11,"t":-0.01,"v":0.08},{"c":11,"t":0.02,"v":0.05},{"c":11,"t":0.05,"v":0.05},{"c":11,"t":0.08,"v":0},{"c":11,"t":0.099,"v":-0.12},{"c":11,"t":0.116,"v":-0.2},{"c":11,"t":0.13,"v":-0.12},{"c":11,"t":0.141,"v":0},{"c":11,"t":0.155,"v":0.15},{"c":11,"t":0.172,"v":0.3},{"c":11,"t":0.19,"v":0.2},{"c":11,"t":0.208,"v":0},{"c":11,"t":0.225,"v":0.72},{"c":11,"t":0.245,"v":1.1},{"c":11,"t":0.27,"v":0.79},{"c":11,"t":0.3,"v":0.46},{"c":11,"t":0.33,"v":0.2},{"c":11,"t":0.36,"v":0.2},{"c":11,"t":0.39,"v":0.28},{"c":11,"t":0.42,"v":0.55},{"c":11,"t":0.445,"v":0.08},{"c":11,"t":0.47,"v":0.18},{"c":11,"t":0.5,"v":0.35},
{"c":12,"t":-0.1,"v":-0.02},{"c":12,"t":-0.07,"v":-0.1},{"c":12,"t":-0.04,"v":0.12},{"c":12,"t":-0.01,"v":0.1},{"c":12,"t":0.02,"v":0.09},{"c":12,"t":0.05,"v":0.1},{"c":12,"t":0.08,"v":0.01},{"c":12,"t":0.099,"v":-0.31},{"c":12,"t":0.116,"v":-0.5},{"c":12,"t":0.13,"v":-0.3},{"c":12,"t":0.141,"v":0},{"c":12,"t":0.155,"v":0.43},{"c":12,"t":0.172,"v":0.85},{"c":12,"t":0.19,"v":0.55},{"c":12,"t":0.208,"v":0.01},{"c":12,"t":0.225,"v":0.91},{"c":12,"t":0.245,"v":1.4},{"c":12,"t":0.27,"v":1.01},{"c":12,"t":0.3,"v":0.59},{"c":12,"t":0.33,"v":0.25},{"c":12,"t":0.36,"v":-0.2},{"c":12,"t":0.39,"v":-0.3},{"c":12,"t":0.42,"v":-0.6},{"c":12,"t":0.445,"v":-0.09},{"c":12,"t":0.47,"v":-0.22},{"c":12,"t":0.5,"v":-0.45},
{"c":13,"t":-0.1,"v":0.04},{"c":13,"t":-0.07,"v":0.1},{"c":13,"t":-0.04,"v":0.15},{"c":13,"t":-0.01,"v":0.04},{"c":13,"t":0.02,"v":0.14},{"c":13,"t":0.05,"v":0.15},{"c":13,"t":0.08,"v":0.02},{"c":13,"t":0.099,"v":-0.5},{"c":13,"t":0.116,"v":-0.8},{"c":13,"t":0.13,"v":-0.48},{"c":13,"t":0.141,"v":-0.01},{"c":13,"t":0.155,"v":0.7},{"c":13,"t":0.172,"v":1.4},{"c":13,"t":0.19,"v":0.91},{"c":13,"t":0.208,"v":0.01},{"c":13,"t":0.225,"v":1.1},{"c":13,"t":0.245,"v":1.7},{"c":13,"t":0.27,"v":1.22},{"c":13,"t":0.3,"v":0.71},{"c":13,"t":0.33,"v":0.31},{"c":13,"t":0.36,"v":0.22},{"c":13,"t":0.39,"v":0.18},{"c":13,"t":0.42,"v":0.35},{"c":13,"t":0.445,"v":0.05},{"c":13,"t":0.47,"v":0.08},{"c":13,"t":0.5,"v":0.15},
{"c":14,"t":-0.1,"v":-0.04},{"c":14,"t":-0.07,"v":0.03},{"c":14,"t":-0.04,"v":-0.15},{"c":14,"t":-0.01,"v":0.11},{"c":14,"t":0.02,"v":0.18},{"c":14,"t":0.05,"v":0.2},{"c":14,"t":0.08,"v":0.02},{"c":14,"t":0.099,"v":-0.68},{"c":14,"t":0.116,"v":-1.1},{"c":14,"t":0.13,"v":-0.66},{"c":14,"t":0.141,"v":-0.01},{"c":14,"t":0.155,"v":0.95},{"c":14,"t":0.172,"v":1.9},{"c":14,"t":0.19,"v":1.24},{"c":14,"t":0.208,"v":0.02},{"c":14,"t":0.225,"v":1.3},{"c":14,"t":0.245,"v":2.0},{"c":14,"t":0.27,"v":1.44},{"c":14,"t":0.3,"v":0.84},{"c":14,"t":0.33,"v":0.36},{"c":14,"t":0.36,"v":0.1},{"c":14,"t":0.39,"v":-0.15},{"c":14,"t":0.42,"v":-0.3},{"c":14,"t":0.445,"v":-0.05},{"c":14,"t":0.47,"v":-0.05},{"c":14,"t":0.5,"v":-0.1},
{"c":15,"t":-0.1,"v":0.01},{"c":15,"t":-0.07,"v":0.08},{"c":15,"t":-0.04,"v":0.16},{"c":15,"t":-0.01,"v":0.12},{"c":15,"t":0.02,"v":0.22},{"c":15,"t":0.05,"v":0.25},{"c":15,"t":0.08,"v":0.03},{"c":15,"t":0.099,"v":-0.84},{"c":15,"t":0.116,"v":-1.35},{"c":15,"t":0.13,"v":-0.81},{"c":15,"t":0.141,"v":-0.01},{"c":15,"t":0.155,"v":1.18},{"c":15,"t":0.172,"v":2.35},{"c":15,"t":0.19,"v":1.53},{"c":15,"t":0.208,"v":0.02},{"c":15,"t":0.225,"v":1.5},{"c":15,"t":0.245,"v":2.3},{"c":15,"t":0.27,"v":1.66},{"c":15,"t":0.3,"v":0.97},{"c":15,"t":0.33,"v":0.41},{"c":15,"t":0.36,"v":0.25},{"c":15,"t":0.39,"v":0.13},{"c":15,"t":0.42,"v":0.25},{"c":15,"t":0.445,"v":0.04},{"c":15,"t":0.47,"v":0.12},{"c":15,"t":0.5,"v":0.25},
{"c":16,"t":-0.1,"v":-0.03},{"c":16,"t":-0.07,"v":-0.06},{"c":16,"t":-0.04,"v":0.1},{"c":16,"t":-0.01,"v":-0.05},{"c":16,"t":0.02,"v":0.27},{"c":16,"t":0.05,"v":0.3},{"c":16,"t":0.08,"v":0.03},{"c":16,"t":0.099,"v":-0.99},{"c":16,"t":0.116,"v":-1.6},{"c":16,"t":0.13,"v":-0.96},{"c":16,"t":0.141,"v":-0.02},{"c":16,"t":0.155,"v":1.38},{"c":16,"t":0.172,"v":2.75},{"c":16,"t":0.19,"v":1.79},{"c":16,"t":0.208,"v":0.02},{"c":16,"t":0.225,"v":1.66},{"c":16,"t":0.245,"v":2.55},{"c":16,"t":0.27,"v":1.84},{"c":16,"t":0.3,"v":1.07},{"c":16,"t":0.33,"v":0.46},{"c":16,"t":0.36,"v":0.15},{"c":16,"t":0.39,"v":-0.1},{"c":16,"t":0.42,"v":-0.2},{"c":16,"t":0.445,"v":-0.03},{"c":16,"t":0.47,"v":-0.18},{"c":16,"t":0.5,"v":-0.35},
{"c":17,"t":-0.1,"v":0.03},{"c":17,"t":-0.07,"v":0.07},{"c":17,"t":-0.04,"v":-0.18},{"c":17,"t":-0.01,"v":0.08},{"c":17,"t":0.02,"v":0.32},{"c":17,"t":0.05,"v":0.35},{"c":17,"t":0.08,"v":0.04},{"c":17,"t":0.099,"v":-1.12},{"c":17,"t":0.116,"v":-1.8},{"c":17,"t":0.13,"v":-1.08},{"c":17,"t":0.141,"v":-0.02},{"c":17,"t":0.155,"v":1.55},{"c":17,"t":0.172,"v":3.1},{"c":17,"t":0.19,"v":2.02},{"c":17,"t":0.208,"v":0.03},{"c":17,"t":0.225,"v":1.82},{"c":17,"t":0.245,"v":2.8},{"c":17,"t":0.27,"v":2.02},{"c":17,"t":0.3,"v":1.18},{"c":17,"t":0.33,"v":0.5},{"c":17,"t":0.36,"v":0.28},{"c":17,"t":0.39,"v":0.08},{"c":17,"t":0.42,"v":0.15},{"c":17,"t":0.445,"v":0.02},{"c":17,"t":0.47,"v":0.03},{"c":17,"t":0.5,"v":0.05},
{"c":18,"t":-0.1,"v":0},{"c":18,"t":-0.07,"v":-0.09},{"c":18,"t":-0.04,"v":0.18},{"c":18,"t":-0.01,"v":0.1},{"c":18,"t":0.02,"v":0.32},{"c":18,"t":0.05,"v":0.35},{"c":18,"t":0.08,"v":0.04},{"c":18,"t":0.099,"v":-1.21},{"c":18,"t":0.116,"v":-1.95},{"c":18,"t":0.13,"v":-1.17},{"c":18,"t":0.141,"v":-0.02},{"c":18,"t":0.155,"v":1.7},{"c":18,"t":0.172,"v":3.4},{"c":18,"t":0.19,"v":2.21},{"c":18,"t":0.208,"v":0.03},{"c":18,"t":0.225,"v":1.92},{"c":18,"t":0.245,"v":2.95},{"c":18,"t":0.27,"v":2.12},{"c":18,"t":0.3,"v":1.24},{"c":18,"t":0.33,"v":0.53},{"c":18,"t":0.36,"v":0.2},{"c":18,"t":0.39,"v":-0.05},{"c":18,"t":0.42,"v":-0.1},{"c":18,"t":0.445,"v":-0.02},{"c":18,"t":0.47,"v":-0.28},{"c":18,"t":0.5,"v":-0.55},
{"c":19,"t":-0.1,"v":0.02},{"c":19,"t":-0.07,"v":-0.07},{"c":19,"t":-0.04,"v":-0.16},{"c":19,"t":-0.01,"v":-0.12},{"c":19,"t":0.02,"v":-0.36},{"c":19,"t":0.05,"v":-0.4},{"c":19,"t":0.08,"v":-0.04},{"c":19,"t":0.099,"v":1.74},{"c":19,"t":0.116,"v":2.8},{"c":19,"t":0.13,"v":1.68},{"c":19,"t":0.141,"v":0.02},{"c":19,"t":0.155,"v":-2.23},{"c":19,"t":0.172,"v":-4.45},{"c":19,"t":0.19,"v":-2.89},{"c":19,"t":0.208,"v":-0.03},{"c":19,"t":0.225,"v":-1.11},{"c":19,"t":0.245,"v":-1.7},{"c":19,"t":0.27,"v":-1.22},{"c":19,"t":0.3,"v":-0.71},{"c":19,"t":0.33,"v":-0.31},{"c":19,"t":0.36,"v":-0.1},{"c":19,"t":0.39,"v":-0.18},{"c":19,"t":0.42,"v":-0.35},{"c":19,"t":0.445,"v":-0.05},{"c":19,"t":0.47,"v":0.15},{"c":19,"t":0.5,"v":0.3},
{"c":20,"t":-0.1,"v":-0.01},{"c":20,"t":-0.07,"v":-0.05},{"c":20,"t":-0.04,"v":-0.1},{"c":20,"t":-0.01,"v":-0.07},{"c":20,"t":0.02,"v":-0.27},{"c":20,"t":0.05,"v":-0.3},{"c":20,"t":0.08,"v":-0.03},{"c":20,"t":0.099,"v":1.55},{"c":20,"t":0.116,"v":2.5},{"c":20,"t":0.13,"v":1.5},{"c":20,"t":0.141,"v":0.01},{"c":20,"t":0.155,"v":-1.5},{"c":20,"t":0.172,"v":-3.0},{"c":20,"t":0.19,"v":-1.95},{"c":20,"t":0.208,"v":-0.02},{"c":20,"t":0.225,"v":-0.98},{"c":20,"t":0.245,"v":-1.5},{"c":20,"t":0.27,"v":-1.08},{"c":20,"t":0.3,"v":-0.63},{"c":20,"t":0.33,"v":-0.27},{"c":20,"t":0.36,"v":0.1},{"c":20,"t":0.39,"v":0.23},{"c":20,"t":0.42,"v":0.45},{"c":20,"t":0.445,"v":0.07},{"c":20,"t":0.47,"v":-0.15},{"c":20,"t":0.5,"v":-0.3},
{"c":21,"t":-0.1,"v":0.03},{"c":21,"t":-0.07,"v":-0.03},{"c":21,"t":-0.04,"v":-0.14},{"c":21,"t":-0.01,"v":-0.09},{"c":21,"t":0.02,"v":-0.32},{"c":21,"t":0.05,"v":-0.35},{"c":21,"t":0.08,"v":-0.04},{"c":21,"t":0.099,"v":1.36},{"c":21,"t":0.116,"v":2.2},{"c":21,"t":0.13,"v":1.32},{"c":21,"t":0.141,"v":0.01},{"c":21,"t":0.155,"v":-2.0},{"c":21,"t":0.172,"v":-4.0},{"c":21,"t":0.19,"v":-2.6},{"c":21,"t":0.208,"v":-0.02},{"c":21,"t":0.225,"v":0.2},{"c":21,"t":0.245,"v":0.3},{"c":21,"t":0.27,"v":0.22},{"c":21,"t":0.3,"v":0.13},{"c":21,"t":0.33,"v":0.05},{"c":21,"t":0.36,"v":-0.2},{"c":21,"t":0.39,"v":-0.25},{"c":21,"t":0.42,"v":-0.5},{"c":21,"t":0.445,"v":-0.08},{"c":21,"t":0.47,"v":0.05},{"c":21,"t":0.5,"v":0.1},
{"c":22,"t":-0.1,"v":-0.02},{"c":22,"t":-0.07,"v":0.03},{"c":22,"t":-0.04,"v":-0.1},{"c":22,"t":-0.01,"v":-0.02},{"c":22,"t":0.02,"v":-0.23},{"c":22,"t":0.05,"v":-0.25},{"c":22,"t":0.08,"v":-0.03},{"c":22,"t":0.099,"v":1.12},{"c":22,"t":0.116,"v":1.8},{"c":22,"t":0.13,"v":1.08},{"c":22,"t":0.141,"v":0.01},{"c":22,"t":0.155,"v":-1.0},{"c":22,"t":0.172,"v":-2.0},{"c":22,"t":0.19,"v":-1.3},{"c":22,"t":0.208,"v":-0.01},{"c":22,"t":0.225,"v":-0.78},{"c":22,"t":0.245,"v":-1.2},{"c":22,"t":0.27,"v":-0.86},{"c":22,"t":0.3,"v":-0.5},{"c":22,"t":0.33,"v":-0.22},{"c":22,"t":0.36,"v":0.15},{"c":22,"t":0.39,"v":0.15},{"c":22,"t":0.42,"v":0.3},{"c":22,"t":0.445,"v":0.05},{"c":22,"t":0.47,"v":-0.22},{"c":22,"t":0.5,"v":-0.45},
{"c":23,"t":-0.1,"v":0.01},{"c":23,"t":-0.07,"v":0.04},{"c":23,"t":-0.04,"v":0.05},{"c":23,"t":-0.01,"v":-0.05},{"c":23,"t":0.02,"v":-0.18},{"c":23,"t":0.05,"v":-0.2},{"c":23,"t":0.08,"v":-0.02},{"c":23,"t":0.099,"v":0.74},{"c":23,"t":0.116,"v":1.2},{"c":23,"t":0.13,"v":0.72},{"c":23,"t":0.141,"v":0},{"c":23,"t":0.155,"v":-1.8},{"c":23,"t":0.172,"v":-3.6},{"c":23,"t":0.19,"v":-2.34},{"c":23,"t":0.208,"v":-0.02},{"c":23,"t":0.225,"v":0.59},{"c":23,"t":0.245,"v":0.9},{"c":23,"t":0.27,"v":0.65},{"c":23,"t":0.3,"v":0.38},{"c":23,"t":0.33,"v":0.16},{"c":23,"t":0.36,"v":0.05},{"c":23,"t":0.39,"v":-0.2},{"c":23,"t":0.42,"v":-0.4},{"c":23,"t":0.445,"v":-0.06},{"c":23,"t":0.47,"v":0.18},{"c":23,"t":0.5,"v":0.35},
{"c":24,"t":-0.1,"v":0},{"c":24,"t":-0.07,"v":-0.04},{"c":24,"t":-0.04,"v":0.03},{"c":24,"t":-0.01,"v":0.07},{"c":24,"t":0.02,"v":-0.05},{"c":24,"t":0.05,"v":-0.05},{"c":24,"t":0.08,"v":0},{"c":24,"t":0.099,"v":0.37},{"c":24,"t":0.116,"v":0.6},{"c":24,"t":0.13,"v":0.36},{"c":24,"t":0.141,"v":0},{"c":24,"t":0.155,"v":-1.3},{"c":24,"t":0.172,"v":-2.6},{"c":24,"t":0.19,"v":-1.69},{"c":24,"t":0.208,"v":-0.01},{"c":24,"t":0.225,"v":1.04},{"c":24,"t":0.245,"v":1.6},{"c":24,"t":0.27,"v":1.15},{"c":24,"t":0.3,"v":0.67},{"c":24,"t":0.33,"v":0.29},{"c":24,"t":0.36,"v":0.25},{"c":24,"t":0.39,"v":0.1},{"c":24,"t":0.42,"v":0.2},{"c":24,"t":0.445,"v":0.03},{"c":24,"t":0.47,"v":-0.08},{"c":24,"t":0.5,"v":-0.15},
{"c":25,"t":-0.1,"v":0.03},{"c":25,"t":-0.07,"v":0.09},{"c":25,"t":-0.04,"v":0.13},{"c":25,"t":-0.01,"v":0.07},{"c":25,"t":0.02,"v":0.09},{"c":25,"t":0.05,"v":0.1},{"c":25,"t":0.08,"v":0.01},{"c":25,"t":0.099,"v":-0.19},{"c":25,"t":0.116,"v":-0.3},{"c":25,"t":0.13,"v":-0.18},{"c":25,"t":0.141,"v":0},{"c":25,"t":0.155,"v":0.6},{"c":25,"t":0.172,"v":1.2},{"c":25,"t":0.19,"v":0.78},{"c":25,"t":0.208,"v":0.01},{"c":25,"t":0.225,"v":-0.33},{"c":25,"t":0.245,"v":-0.5},{"c":25,"t":0.27,"v":-0.36},{"c":25,"t":0.3,"v":-0.21},{"c":25,"t":0.33,"v":-0.09},{"c":25,"t":0.36,"v":-0.15},{"c":25,"t":0.39,"v":-0.1},{"c":25,"t":0.42,"v":-0.2},{"c":25,"t":0.445,"v":-0.03},{"c":25,"t":0.47,"v":0.1},{"c":25,"t":0.5,"v":0.2},
{"c":26,"t":-0.1,"v":-0.04},{"c":26,"t":-0.07,"v":0.02},{"c":26,"t":-0.04,"v":-0.16},{"c":26,"t":-0.01,"v":0.1},{"c":26,"t":0.02,"v":0.18},{"c":26,"t":0.05,"v":0.2},{"c":26,"t":0.08,"v":0.02},{"c":26,"t":0.099,"v":-0.56},{"c":26,"t":0.116,"v":-0.9},{"c":26,"t":0.13,"v":-0.54},{"c":26,"t":0.141,"v":-0.01},{"c":26,"t":0.155,"v":0.25},{"c":26,"t":0.172,"v":0.5},{"c":26,"t":0.19,"v":0.33},{"c":26,"t":0.208,"v":0},{"c":26,"t":0.225,"v":1.69},{"c":26,"t":0.245,"v":2.6},{"c":26,"t":0.27,"v":1.87},{"c":26,"t":0.3,"v":1.09},{"c":26,"t":0.33,"v":0.47},{"c":26,"t":0.36,"v":0.2},{"c":26,"t":0.39,"v":0.23},{"c":26,"t":0.42,"v":0.45},{"c":26,"t":0.445,"v":0.07},{"c":26,"t":0.47,"v":0.2},{"c":26,"t":0.5,"v":0.4},
{"c":27,"t":-0.1,"v":0.02},{"c":27,"t":-0.07,"v":0.06},{"c":27,"t":-0.04,"v":0.17},{"c":27,"t":-0.01,"v":0.12},{"c":27,"t":0.02,"v":0.27},{"c":27,"t":0.05,"v":0.3},{"c":27,"t":0.08,"v":0.03},{"c":27,"t":0.099,"v":-0.87},{"c":27,"t":0.116,"v":-1.4},{"c":27,"t":0.13,"v":-0.84},{"c":27,"t":0.141,"v":-0.01},{"c":27,"t":0.155,"v":1.45},{"c":27,"t":0.172,"v":2.9},{"c":27,"t":0.19,"v":1.89},{"c":27,"t":0.208,"v":0.02},{"c":27,"t":0.225,"v":1.85},{"c":27,"t":0.245,"v":2.85},{"c":27,"t":0.27,"v":2.05},{"c":27,"t":0.3,"v":1.2},{"c":27,"t":0.33,"v":0.51},{"c":27,"t":0.36,"v":0.1},{"c":27,"t":0.39,"v":-0.23},{"c":27,"t":0.42,"v":-0.45},{"c":27,"t":0.445,"v":-0.07},{"c":27,"t":0.47,"v":-0.25},{"c":27,"t":0.5,"v":-0.5},
{"c":28,"t":-0.1,"v":-0.01},{"c":28,"t":-0.07,"v":-0.08},{"c":28,"t":-0.04,"v":0.11},{"c":28,"t":-0.01,"v":0.09},{"c":28,"t":0.02,"v":0.32},{"c":28,"t":0.05,"v":0.35},{"c":28,"t":0.08,"v":0.04},{"c":28,"t":0.099,"v":-1.05},{"c":28,"t":0.116,"v":-1.7},{"c":28,"t":0.13,"v":-1.02},{"c":28,"t":0.141,"v":-0.02},{"c":28,"t":0.155,"v":1.65},{"c":28,"t":0.172,"v":3.3},{"c":28,"t":0.19,"v":2.15},{"c":28,"t":0.208,"v":0.03},{"c":28,"t":0.225,"v":1.24},{"c":28,"t":0.245,"v":1.9},{"c":28,"t":0.27,"v":1.37},{"c":28,"t":0.3,"v":0.8},{"c":28,"t":0.33,"v":0.34},{"c":28,"t":0.36,"v":-0.1},{"c":28,"t":0.39,"v":0.15},{"c":28,"t":0.42,"v":0.3},{"c":28,"t":0.445,"v":0.05},{"c":28,"t":0.47,"v":0.08},{"c":28,"t":0.5,"v":0.15},
{"c":29,"t":-0.1,"v":0.02},{"c":29,"t":-0.07,"v":0.05},{"c":29,"t":-0.04,"v":-0.2},{"c":29,"t":-0.01,"v":0.13},{"c":29,"t":0.02,"v":0.23},{"c":29,"t":0.05,"v":0.25},{"c":29,"t":0.08,"v":0.03},{"c":29,"t":0.099,"v":-1.18},{"c":29,"t":0.116,"v":-1.9},{"c":29,"t":0.13,"v":-1.14},{"c":29,"t":0.141,"v":-0.02},{"c":29,"t":0.155,"v":1.1},{"c":29,"t":0.172,"v":2.2},{"c":29,"t":0.19,"v":1.43},{"c":29,"t":0.208,"v":0.02},{"c":29,"t":0.225,"v":1.76},{"c":29,"t":0.245,"v":2.7},{"c":29,"t":0.27,"v":1.94},{"c":29,"t":0.3,"v":1.13},{"c":29,"t":0.33,"v":0.49},{"c":29,"t":0.36,"v":0.25},{"c":29,"t":0.39,"v":-0.08},{"c":29,"t":0.42,"v":-0.15},{"c":29,"t":0.445,"v":-0.02},{"c":29,"t":0.47,"v":-0.13},{"c":29,"t":0.5,"v":-0.25},
{"c":30,"t":-0.1,"v":-0.03},{"c":30,"t":-0.07,"v":-0.08},{"c":30,"t":-0.04,"v":-0.17},{"c":30,"t":-0.01,"v":-0.11},{"c":30,"t":0.02,"v":-0.41},{"c":30,"t":0.05,"v":-0.45},{"c":30,"t":0.08,"v":-0.05},{"c":30,"t":0.099,"v":0.93},{"c":30,"t":0.116,"v":1.5},{"c":30,"t":0.13,"v":0.9},{"c":30,"t":0.141,"v":0.01},{"c":30,"t":0.155,"v":-2.1},{"c":30,"t":0.172,"v":-4.2},{"c":30,"t":0.19,"v":-2.73},{"c":30,"t":0.208,"v":-0.03},{"c":30,"t":0.225,"v":-0.65},{"c":30,"t":0.245,"v":-1.0},{"c":30,"t":0.27,"v":-0.72},{"c":30,"t":0.3,"v":-0.42},{"c":30,"t":0.33,"v":-0.18},{"c":30,"t":0.36,"v":-0.25},{"c":30,"t":0.39,"v":0.28},{"c":30,"t":0.42,"v":0.55},{"c":30,"t":0.445,"v":0.08},{"c":30,"t":0.47,"v":0.22},{"c":30,"t":0.5,"v":0.45}
]},
"vconcat":[
{"width":567,"height":159,"title":{"text":"All conditions Upright"},
"layer":[
{"data":{"name":"up"},"mark":{"type":"line","color":"#0000ff","strokeWidth":1.3,"interpolate":"monotone"},
"encoding":{"x":{"field":"t","type":"quantitative","scale":{"domain":[-0.1,0.5],"nice":false,"zero":false},"axis":{"title":"Time [sec]","values":[-0.1,0,0.1,0.2,0.3,0.4,0.5],"labelExpr":"'' + datum.value"}},
"y":{"field":"v","type":"quantitative","scale":{"domain":[-5,5],"nice":false},"axis":{"title":"ERPs [uV]","values":[-5,0,5],"labelExpr":"'' + datum.value"}},
"detail":{"field":"c","type":"nominal"}}},
{"data":{"name":"zero"},"mark":{"type":"rule","color":"#000000","strokeWidth":1},"encoding":{"y":{"field":"v","type":"quantitative"}}},
{"data":{"name":"zero"},"mark":{"type":"rule","color":"#000000","strokeWidth":1},"encoding":{"x":{"field":"t","type":"quantitative"}}}
]},
{"width":567,"height":159,"title":{"text":"All conditions Inverted"},
"layer":[
{"data":{"name":"inv"},"mark":{"type":"line","color":"#0000ff","strokeWidth":1.3,"interpolate":"monotone"},
"encoding":{"x":{"field":"t","type":"quantitative","scale":{"domain":[-0.1,0.5],"nice":false,"zero":false},"axis":{"title":"Time [sec]","values":[-0.1,0,0.1,0.2,0.3,0.4,0.5],"labelExpr":"'' + datum.value"}},
"y":{"field":"v","type":"quantitative","scale":{"domain":[-5,5],"nice":false},"axis":{"title":"ERPs [uV]","values":[-5,0,5],"labelExpr":"'' + datum.value"}},
"detail":{"field":"c","type":"nominal"}}},
{"data":{"name":"zero"},"mark":{"type":"rule","color":"#000000","strokeWidth":1},"encoding":{"y":{"field":"v","type":"quantitative"}}},
{"data":{"name":"zero"},"mark":{"type":"rule","color":"#000000","strokeWidth":1},"encoding":{"x":{"field":"t","type":"quantitative"}}}
]}
]
}
